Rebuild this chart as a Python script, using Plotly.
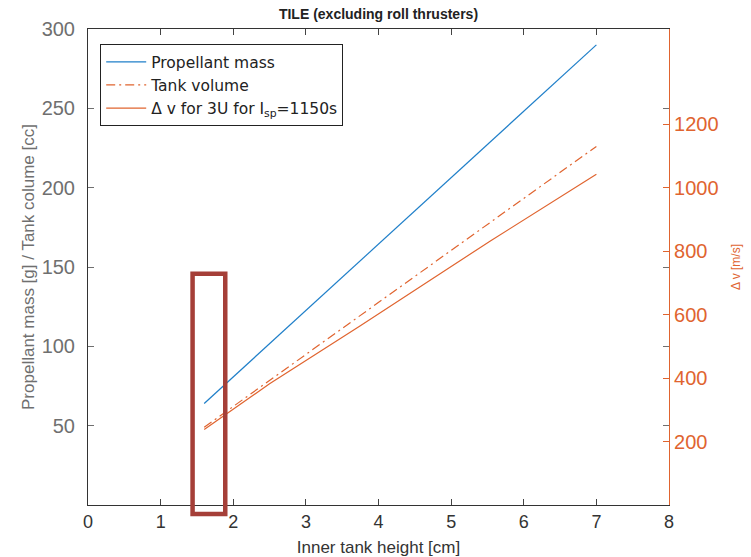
import plotly.graph_objects as go

# Inner tank height [cm]
height_cm = [1.6, 7.0]
propellant_mass_g = [64, 290]
tank_volume_cc = [49, 226]

height_dv_cm = [1.6, 2.5, 3.75, 5.54, 7.0]
delta_v_ms = [238, 382, 565, 832, 1042]

x_ticks = [0, 1, 2, 3, 4, 5, 6, 7, 8]
left_ticks = [50, 100, 150, 200, 250, 300]
right_ticks = [200, 400, 600, 800, 1000, 1200]

X_RANGE = [0, 8]
LEFT_RANGE = [0, 300]
RIGHT_RANGE = [0, 1500]

# Highlighted height window (data units)
box_x = [1.44, 1.89]
box_y = [-5.7, 145.7]

BLUE = "#1f7fc9"
ORANGE = "#e0642f"
GRAY = "#6f6f6f"
DARK = "#333333"
FONT = "Liberation Sans, Arial, sans-serif"

fig = go.Figure()

fig.add_trace(go.Scatter(
    x=height_cm, y=propellant_mass_g, mode="lines", name="Propellant mass",
    line=dict(color=BLUE, width=1.2)))
fig.add_trace(go.Scatter(
    x=height_cm, y=tank_volume_cc, mode="lines", name="Tank volume",
    line=dict(color=ORANGE, width=1.2, dash="9px,4px,2px,4px")))
fig.add_trace(go.Scatter(
    x=height_dv_cm, y=delta_v_ms, mode="lines", yaxis="y2",
    name="\u0394 v for 3U for I<sub>sp</sub>=1150s",
    line=dict(color=ORANGE, width=1.2)))

def to_paper(v, rng):
    return (v - rng[0]) / (rng[1] - rng[0])

fig.add_shape(
    type="rect", xref="paper", yref="paper",
    x0=to_paper(box_x[0], X_RANGE), x1=to_paper(box_x[1], X_RANGE),
    y0=to_paper(box_y[0], LEFT_RANGE), y1=to_paper(box_y[1], LEFT_RANGE),
    line=dict(color="#a53f38", width=4.5), fillcolor="rgba(0,0,0,0)",
    layer="above")

fig.update_layout(
    width=751, height=557,
    margin=dict(l=88, r=82, t=29, b=52, autoexpand=False),
    paper_bgcolor="white", plot_bgcolor="white",
    font=dict(family=FONT, color=DARK),
    showlegend=True,
    title=dict(text="<b>TILE (excluding roll thrusters)</b>",
               x=(88 + 669) / 2 / 751, xanchor="center",
               y=1 - 14 / 557, yanchor="middle",
               font=dict(size=14, color="#222222")),
    legend=dict(x=0.021, y=0.968, xanchor="left", yanchor="top",
                bgcolor="white", bordercolor="#222222", borderwidth=1,
                font=dict(family="DejaVu Sans, sans-serif", size=15.5,
                          color="#222222"),
                tracegroupgap=0, itemwidth=40),
    xaxis=dict(range=X_RANGE, tickvals=x_ticks, ticks="inside", ticklen=6,
               showline=True, linecolor=DARK, linewidth=1, mirror="ticks",
               showgrid=False, zeroline=False, automargin=False,
               tickfont=dict(size=18, color=DARK),
               title=dict(text="Inner tank height [cm]", standoff=10,
                          font=dict(size=17, color=DARK))),
    yaxis=dict(range=LEFT_RANGE, tickvals=left_ticks, ticks="inside", ticklen=6,
               showline=True, linecolor=DARK, linewidth=1, mirror="ticks",
               tickcolor=GRAY, ticklabelstandoff=8,
               showgrid=False, zeroline=False, automargin=False,
               tickfont=dict(size=20, color=GRAY),
               title=dict(text="Propellant mass [g] / Tank colume [cc]",
                          standoff=2, font=dict(size=17, color=GRAY))),
    yaxis2=dict(range=RIGHT_RANGE, tickvals=right_ticks, overlaying="y",
                side="right", ticks="inside", ticklen=6,
                showline=True, linecolor=ORANGE, tickcolor=ORANGE, linewidth=1.2,
                showgrid=False, zeroline=False, automargin=False,
                tickfont=dict(size=20, color=ORANGE),
                title=dict(text="\u0394 v [m/s]", standoff=14,
                           font=dict(size=12, color=ORANGE))),
)

fig.write_html("out.html")
